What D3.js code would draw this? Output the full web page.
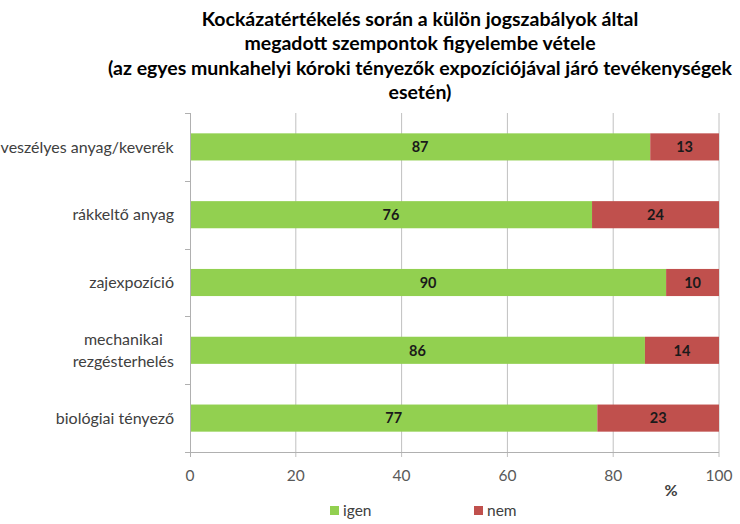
<!DOCTYPE html>
<html>
<head>
<meta charset="utf-8">
<script src="https://cdn.jsdelivr.net/npm/d3@7"></script>
<style>
  body { margin: 0; background: #fff; }
  svg { display: block; font-family: Lato, "Open Sans", sans-serif; }
  .title { font-weight: bold; fill: #000; font-size: 19.5px; }
  .cat { fill: #404040; font-size: 16px; }
  .tick-label { fill: #595959; font-size: 15.5px; }
  .val { font-weight: bold; fill: #1a1a1a; font-size: 14.5px; }
  .legend { fill: #404040; font-size: 15.5px; }
</style>
</head>
<body>
<svg id="chart" width="740" height="524"></svg>
<script>
// data
var titleLines = [
  "Kockázatértékelés során a külön jogszabályok által",
  "megadott szempontok figyelembe vétele",
  "(az egyes munkahelyi kóroki tényezők expozíciójával járó tevékenységek",
  "esetén)"
]
var categories = [
  ["veszélyes anyag/keverék"],
  ["rákkeltő anyag"],
  ["zajexpozíció"],
  ["mechanikai", "rezgésterhelés"],
  ["biológiai tényező"]
]
var igen = [87, 76, 90, 86, 77]
var nem = [13, 24, 10, 14, 23]
var xTicks = [0, 20, 40, 60, 80, 100]
var seriesNames = ["igen", "nem"]
var colors = ["#92d050", "#c0504d"]

var svg = d3.select("#chart")
var margin = { top: 113, left: 190, right: 21, bottom: 72 }
var width = 740 - margin.left - margin.right
var height = 524 - margin.top - margin.bottom

// title
svg.append("g").selectAll("text")
  .data(titleLines).enter()
  .append("text")
  .attr("class", "title")
  .attr("x", 420)
  .attr("y", function (d, i) { return 26 + i * 24.4 })
  .attr("text-anchor", "middle")
  .text(function (d) { return d })

var g = svg.append("g").attr("transform", "translate(" + margin.left + "," + margin.top + ")")

var x = d3.scaleLinear().domain([0, 100]).range([0, width])
var y = d3.scaleBand().domain(d3.range(categories.length)).range([0, height])
  .paddingInner(0.6).paddingOuter(0.3)

// gridlines
g.append("g").selectAll("line")
  .data(xTicks.slice(1)).enter()
  .append("line")
  .attr("x1", function (d) { return x(d) }).attr("x2", function (d) { return x(d) })
  .attr("y1", 0).attr("y2", height + 5)
  .attr("stroke", "#c0c0c0").attr("stroke-width", 1)

// stacked bars
var rows = categories.map(function (c, i) {
  return [{ s: 0, x0: 0, v: igen[i], i: i }, { s: 1, x0: igen[i], v: nem[i], i: i }]
})
var segs = g.append("g").selectAll("g")
  .data(d3.merge(rows)).enter()
  .append("g")
segs.append("rect")
  .attr("x", function (d) { return x(d.x0) })
  .attr("y", function (d) { return y(d.i) })
  .attr("width", function (d) { return x(d.x0 + d.v) - x(d.x0) })
  .attr("height", y.bandwidth())
  .attr("fill", function (d) { return colors[d.s] })
segs.append("text")
  .attr("class", "val")
  .attr("x", function (d) { return x(d.x0 + d.v / 2) })
  .attr("y", function (d) { return y(d.i) + y.bandwidth() / 2 })
  .attr("dy", "0.36em")
  .attr("text-anchor", "middle")
  .text(function (d) { return d.v })

// axes lines
var axisColor = "#b0b0b0"
g.append("line").attr("x1", 0.5).attr("x2", 0.5).attr("y1", 0).attr("y2", height)
  .attr("stroke", axisColor)
g.append("line").attr("x1", -5).attr("x2", width).attr("y1", height + 0.5).attr("y2", height + 0.5)
  .attr("stroke", axisColor)
// y ticks at band boundaries
g.append("g").selectAll("line")
  .data(d3.range(categories.length + 1)).enter()
  .append("line")
  .attr("x1", -5).attr("x2", 0)
  .attr("y1", function (d) { return Math.round(d * y.step()) + 0.5 })
  .attr("y2", function (d) { return Math.round(d * y.step()) + 0.5 })
  .attr("stroke", axisColor)
// x tick at 0
g.append("line")
  .attr("x1", x(0) + 0.5).attr("x2", x(0) + 0.5)
  .attr("y1", height).attr("y2", height + 5)
  .attr("stroke", axisColor)
g.append("g").selectAll("text")
  .data(xTicks).enter()
  .append("text")
  .attr("class", "tick-label")
  .attr("x", function (d) { return x(d) })
  .attr("y", height + 29)
  .attr("text-anchor", "middle")
  .text(function (d) { return d })
g.append("text")
  .attr("class", "tick-label")
  .attr("x", x(100) - 48)
  .attr("y", height + 44)
  .attr("text-anchor", "middle")
  .style("font-weight", "bold")
  .style("fill", "#404040")
  .style("font-size", "16px")
  .text("%")

// category labels
var catRight = -16
categories.forEach(function (lines, i) {
  var cy = y(i) + y.bandwidth() / 2
  var t = g.append("text").attr("class", "cat").attr("text-anchor", "middle")
  lines.forEach(function (l, k) {
    t.append("tspan")
      .attr("x", 0)
      .attr("y", cy + (k - (lines.length - 1) / 2) * 22)
      .attr("dy", "0.35em")
      .text(l)
  })
  var w = t.node().getBBox().width
  t.selectAll("tspan").attr("x", catRight - w / 2)
})

// legend
var legendX = [330, 474]
var legend = svg.append("g").selectAll("g")
  .data(seriesNames).enter()
  .append("g")
  .attr("transform", function (d, i) { return "translate(" + legendX[i] + ",506)" })
legend.append("rect")
  .attr("width", 9).attr("height", 9)
  .attr("fill", function (d, i) { return colors[i] })
legend.append("text")
  .attr("class", "legend")
  .attr("x", 13).attr("y", 5).attr("dy", "0.35em")
  .text(function (d) { return d })
</script>
</body>
</html>
